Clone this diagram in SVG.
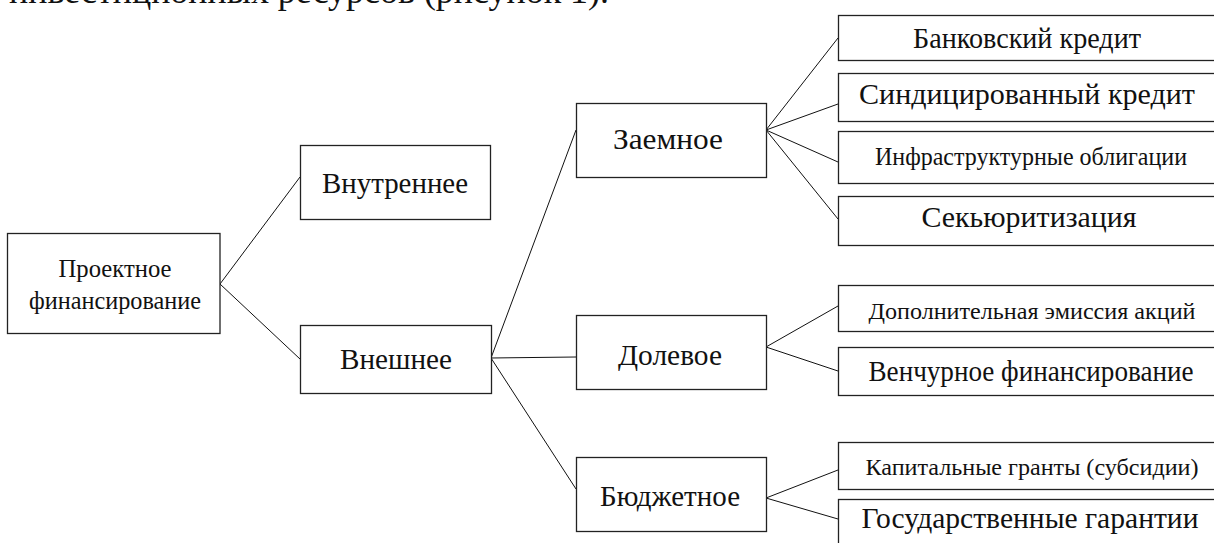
<svg xmlns="http://www.w3.org/2000/svg" width="1214" height="543" viewBox="0 0 1214 543">
<style>
.box{fill:#fff;stroke:#222;stroke-width:1.3}
.lbl{font-family:"Liberation Serif","Times New Roman",serif;font-size:29px;fill:#111;text-anchor:middle}
.cnd{font-size:26px}
.cnd2{font-size:24px}
.ln{stroke:#111;stroke-width:1;fill:none}
.cap{font-family:"Liberation Serif","Times New Roman",serif;font-size:36px;fill:#111}
</style>
<rect x="0" y="0" width="1214" height="543" fill="#fff"/>
<text class="cap" x="9" y="2.5" textLength="600" lengthAdjust="spacingAndGlyphs">инвестиционных ресурсов (рисунок 1).</text>
<g id="connectors">
<line class="ln" x1="220" y1="284" x2="300" y2="177"/>
<line class="ln" x1="220" y1="284" x2="300" y2="359"/>
<line class="ln" x1="491" y1="358" x2="576" y2="130"/>
<line class="ln" x1="491" y1="358" x2="576" y2="357"/>
<line class="ln" x1="491" y1="358" x2="576" y2="489"/>
<line class="ln" x1="766" y1="130" x2="838" y2="38"/>
<line class="ln" x1="766" y1="130" x2="838" y2="104"/>
<line class="ln" x1="766" y1="130" x2="838" y2="162"/>
<line class="ln" x1="766" y1="130" x2="838" y2="219"/>
<line class="ln" x1="766" y1="347" x2="838" y2="306"/>
<line class="ln" x1="766" y1="347" x2="838" y2="371"/>
<line class="ln" x1="766" y1="498" x2="838" y2="470"/>
<line class="ln" x1="766" y1="498" x2="838" y2="519"/>
</g>
<g id="n-root"><rect class="box" x="7.5" y="233.5" width="212.5" height="100"/>
<text class="lbl cnd" x="115" y="277" textLength="113" lengthAdjust="spacingAndGlyphs">Проектное</text>
<text class="lbl cnd" x="115" y="309" textLength="172" lengthAdjust="spacingAndGlyphs">финансирование</text></g>
<g id="n-internal"><rect class="box" x="300.5" y="145.5" width="190" height="74"/>
<text class="lbl" x="395" y="193" textLength="146" lengthAdjust="spacingAndGlyphs">Внутреннее</text></g>
<g id="n-external"><rect class="box" x="300.5" y="325.5" width="191" height="68"/>
<text class="lbl" x="396" y="369" textLength="112" lengthAdjust="spacingAndGlyphs">Внешнее</text></g>
<g id="n-debt"><rect class="box" x="576.5" y="103.5" width="190" height="74"/>
<text class="lbl" x="668" y="149" textLength="110" lengthAdjust="spacingAndGlyphs">Заемное</text></g>
<g id="n-equity"><rect class="box" x="576.5" y="315.5" width="190" height="74"/>
<text class="lbl" x="670" y="365" textLength="104" lengthAdjust="spacingAndGlyphs">Долевое</text></g>
<g id="n-budget"><rect class="box" x="576.5" y="457.5" width="190" height="74"/>
<text class="lbl" x="670" y="506" textLength="140" lengthAdjust="spacingAndGlyphs">Бюджетное</text></g>
<g id="l-bank"><rect class="box" x="838.5" y="15.5" width="400" height="45"/>
<text class="lbl" x="1027" y="47.5" textLength="228" lengthAdjust="spacingAndGlyphs">Банковский кредит</text></g>
<g id="l-synd"><rect class="box" x="838.5" y="73.5" width="400" height="48"/>
<text class="lbl" x="1027" y="104" textLength="336" lengthAdjust="spacingAndGlyphs">Синдицированный кредит</text></g>
<g id="l-infra"><rect class="box" x="838.5" y="131.5" width="400" height="52"/>
<text class="lbl cnd" x="1031" y="165" textLength="312" lengthAdjust="spacingAndGlyphs">Инфраструктурные облигации</text></g>
<g id="l-sec"><rect class="box" x="838.5" y="196.5" width="400" height="49"/>
<text class="lbl" x="1029" y="227" textLength="215" lengthAdjust="spacingAndGlyphs">Секьюритизация</text></g>
<g id="l-add"><rect class="box" x="838.5" y="285.5" width="400" height="46"/>
<text class="lbl cnd2" x="1032" y="319" textLength="327" lengthAdjust="spacingAndGlyphs">Дополнительная эмиссия акций</text></g>
<g id="l-venture"><rect class="box" x="838.5" y="347.5" width="400" height="48"/>
<text class="lbl" x="1031" y="381" textLength="325" lengthAdjust="spacingAndGlyphs">Венчурное финансирование</text></g>
<g id="l-grants"><rect class="box" x="838.5" y="442.5" width="400" height="47"/>
<text class="lbl cnd2" x="1032" y="475" textLength="333" lengthAdjust="spacingAndGlyphs">Капитальные гранты (субсидии)</text></g>
<g id="l-guar"><rect class="box" x="838.5" y="499.5" width="400" height="60"/>
<text class="lbl" x="1030" y="528" textLength="337" lengthAdjust="spacingAndGlyphs">Государственные гарантии</text></g>
</svg>
